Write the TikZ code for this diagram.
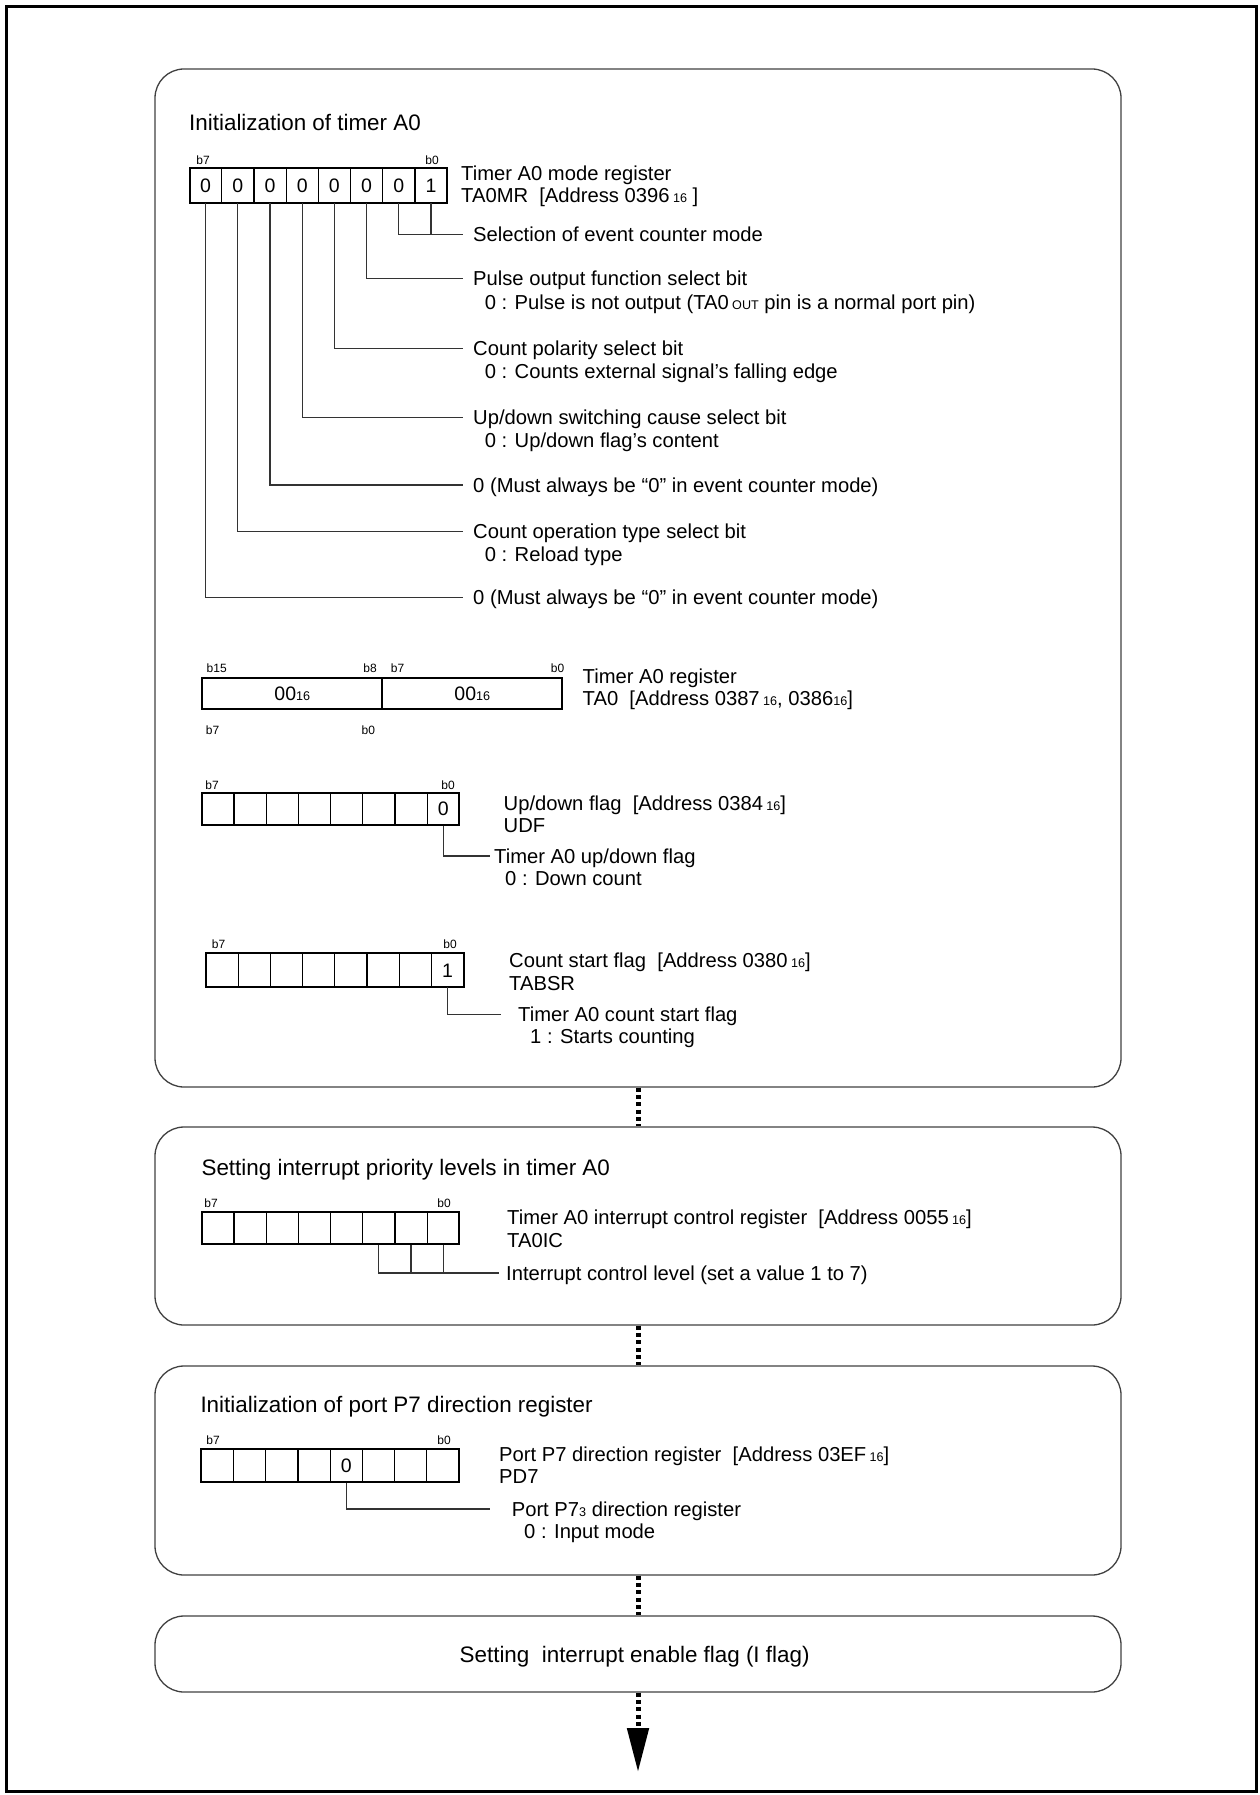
\documentclass[tikz,border=0pt]{standalone}
\usepackage{fontspec}
\setmainfont{Liberation Sans}
\usetikzlibrary{arrows.meta}
\newcommand{\sm}{\fontsize{12.6}{13}\selectfont}
\begin{document}
\begin{tikzpicture}[x=1pt,y=-1pt,
  every node/.style={font=\fontsize{20.2}{24}\selectfont, inner sep=0pt},
  txt/.style={text height=14.5pt, text depth=0pt, anchor=west},
  ttl/.style={font=\fontsize{22.4}{26}\selectfont, text height=16pt, text depth=0pt, anchor=west},
  bitlbl/.style={font=\fontsize{12}{13}\selectfont, text height=8.6pt, text depth=0pt},
  cellbox/.style={draw=black, line width=1.2pt, minimum width=32.2pt},
  digit/.style={font=\fontsize{19.5}{20}\selectfont, text height=14pt, text depth=0pt},
  regframe/.style={draw=black, line width=2pt, minimum width=257.6pt},
  halfreg/.style={draw=black, line width=2pt, minimum width=180pt, minimum height=31.6pt, font=\fontsize{19.5}{20}\selectfont, text height=14pt, text depth=0pt},
  stepbox/.style={draw=black!75, line width=1.3pt, rounded corners=29pt, minimum width=966pt},
  leader/.style={draw=black!80, line width=1.1pt},
  flow/.style={draw=black, line width=5pt, dash pattern=on 4pt off 3.3pt},
]
\useasboundingbox (0,0) rectangle (1259,1795);
\draw[line width=2.3pt] (6.5,6.5) rectangle (1256.5,1791.5);

% ---------- step boxes ----------
\node[stepbox, minimum height=1018pt] (n1) at (638,578) {};
\node[stepbox, minimum height=198pt] (n2) at (638,1226) {};
\node[stepbox, minimum height=209pt] (n3) at (638,1470.5) {};
\node[stepbox, minimum height=76pt] (n4) at (638,1654) {};
\node[ttl, anchor=center] (n4t) at (634.6,1654) {Setting\ \ interrupt enable flag (I flag)};
\coordinate (arrend) at (638,1772);
\draw[flow] (n1.south) -- (n2.north);
\draw[flow] (n2.south) -- (n3.north);
\draw[flow] (n3.south) -- (n4.north);
\draw[flow, -{Triangle[length=44pt,width=21pt]}] (n4.south) -- (arrend);

% ---------- box 1 ----------
\node[ttl] (h1) at (189,123) {Initialization of timer A0};

% TA0MR
\foreach \i in {0,...,7} \node[cellbox, minimum height=34.4pt] (a\i) at ({189.5+32.2*(7-\i)+16.1},185.5) {};
\node[regframe, minimum height=34.4pt] (ra) at (318.3,185.5) {};
\foreach \i/\v in {7/0,6/0,5/0,4/0,3/0,2/0,1/0,0/1} \node[digit] at (a\i) {\v};
\node[bitlbl] (a7l) at (203,160) {b7};
\node[bitlbl] (a0l) at (432,160) {b0};
\node[txt] (ram) at (461,173.5) {Timer A0 mode register};
\node[txt] (raa) at (461,195.5) {TA0MR\ \ [Address 0396\,{\sm 16} ]};

\node[txt] (ta) at (473,234.5) {Selection of event counter mode};
\draw[leader] (a0.south) |- ([xshift=-10pt]ta.west);
\draw[leader] (a1.south) |- ([xshift=-10pt]ta.west);

\node[txt] (tb) at (473,278.5) {Pulse output function select bit};
\node[txt] (tb2) at (484.6,302) {0 : Pulse is not output (TA0\,{\sm OUT} pin is a normal port pin)};
\draw[leader] (a2.south) |- ([xshift=-10pt]tb.west);

\node[txt] (tc) at (473,348.5) {Count polarity select bit};
\node[txt] (tc2) at (484.6,371.5) {0 : Counts external signal's falling edge};
\draw[leader] (a3.south) |- ([xshift=-10pt]tc.west);

\node[txt] (td) at (473,417.5) {Up/down switching cause select bit};
\node[txt] (td2) at (484.6,440.5) {0 : Up/down flag's content};
\draw[leader] (a4.south) |- ([xshift=-10pt]td.west);

\node[txt] (te) at (473,485) {0 (Must always be “0” in event counter mode)};
\draw[leader] (a5.south) |- ([xshift=-10pt]te.west);

\node[txt] (tf) at (473,531.5) {Count operation type select bit};
\node[txt] (tf2) at (484.6,554.5) {0 : Reload type};
\draw[leader] (a6.south) |- ([xshift=-10pt]tf.west);

\node[txt] (tg) at (473,597.5) {0 (Must always be “0” in event counter mode)};
\draw[leader] (a7.south) |- ([xshift=-10pt]tg.west);

% TA0 16-bit
\node[halfreg] (tl) at (292.3,693.5) {00{\sm 16}};
\node[halfreg] (tr) at (472.3,693.5) {00{\sm 16}};
\node[bitlbl] (l15) at (216.7,668) {b15};
\node[bitlbl] (l8) at (370,668) {b8};
\node[bitlbl] (l7) at (397.5,668) {b7};
\node[bitlbl] (l0) at (557.5,668) {b0};
\node[bitlbl] (m7) at (212.5,730) {b7};
\node[bitlbl] (m0) at (368.3,730) {b0};
\node[txt] (trn) at (582.5,676) {Timer A0 register};
\node[txt] (tra) at (582.5,698) {TA0\ \ [Address 0387\,{\sm 16}, 0386{\sm 16}]};

% UDF
\foreach \i in {0,...,7} \node[cellbox, minimum height=32.3pt] (u\i) at ({201.7+32.2*(7-\i)+16.1},808.85) {};
\node[regframe, minimum height=32.3pt] (ru) at (330.5,808.85) {};
\node[digit] at (u0) {0};
\node[bitlbl] (u7l) at (212,785) {b7};
\node[bitlbl] (u0l) at (448,785) {b0};
\node[txt] (run) at (503.5,803) {Up/down flag\ \ [Address 0384\,{\sm 16}]};
\node[txt] (rua) at (503.5,825) {UDF};
\node[txt] (tu) at (494,856) {Timer A0 up/down flag};
\node[txt] (tu2) at (505,878) {0 : Down count};
\draw[leader] (u0.south) |- ([xshift=-4pt]tu.west);

% TABSR
\foreach \i in {0,...,7} \node[cellbox, minimum height=33.4pt] (s\i) at ({206+32.2*(7-\i)+16.1},970) {};
\node[regframe, minimum height=33.4pt] (rs) at (334.8,970) {};
\node[digit] at (s0) {1};
\node[bitlbl] (s7l) at (218.6,944) {b7};
\node[bitlbl] (s0l) at (450,944) {b0};
\node[txt] (rsn) at (509,960) {Count start flag\ \ [Address 0380\,{\sm 16}]};
\node[txt] (rsa) at (509,983) {TABSR};
\node[txt] (ts) at (518,1014.5) {Timer A0 count start flag};
\node[txt] (ts2) at (530,1036.5) {1 : Starts counting};
\draw[leader] (s0.south) |- ([xshift=-17pt]ts.west);

% ---------- box 2 ----------
\node[ttl] (h2) at (201.4,1167) {Setting interrupt priority levels in timer A0};
\foreach \i in {0,...,7} \node[cellbox, minimum height=32.3pt] (c\i) at ({201.7+32.2*(7-\i)+16.1},1227.85) {};
\node[regframe, minimum height=32.3pt] (rc) at (330.5,1227.85) {};
\node[bitlbl] (c7l) at (211,1203) {b7};
\node[bitlbl] (c0l) at (444,1203) {b0};
\node[txt] (rcn) at (507,1217) {Timer A0 interrupt control register\ \ [Address 0055\,{\sm 16}]};
\node[txt] (rca) at (507,1240) {TA0IC};
\node[txt] (tcl) at (506,1273) {Interrupt control level (set a value 1 to 7)};
\draw[leader] (c2.south) |- ([xshift=-7pt]tcl.west);
\draw[leader] (c1.south) -- (c1.south |- tcl.west);
\draw[leader] (c0.south) -- (c0.south |- tcl.west);

% ---------- box 3 ----------
\node[ttl] (h3) at (200.3,1404) {Initialization of port P7 direction register};
\foreach \i in {0,...,7} \node[cellbox, minimum height=33pt] (p\i) at ({201.4+32.2*(7-\i)+16.1},1465.5) {};
\node[regframe, minimum height=33pt] (rp) at (330.2,1465.5) {};
\node[digit] at (p3) {0};
\node[bitlbl] (p7l) at (213,1440) {b7};
\node[bitlbl] (p0l) at (444,1440) {b0};
\node[txt] (rpn) at (499,1454) {Port P7 direction register\ \ [Address 03EF\,{\sm 16}]};
\node[txt] (rpa) at (499,1476) {PD7};
\node[txt] (tp) at (511.6,1509) {Port P7{\sm 3} direction register};
\node[txt] (tp2) at (524,1531) {0 : Input mode};
\draw[leader] (p3.south) |- ([xshift=-22pt]tp.west);
\end{tikzpicture}
\end{document}
